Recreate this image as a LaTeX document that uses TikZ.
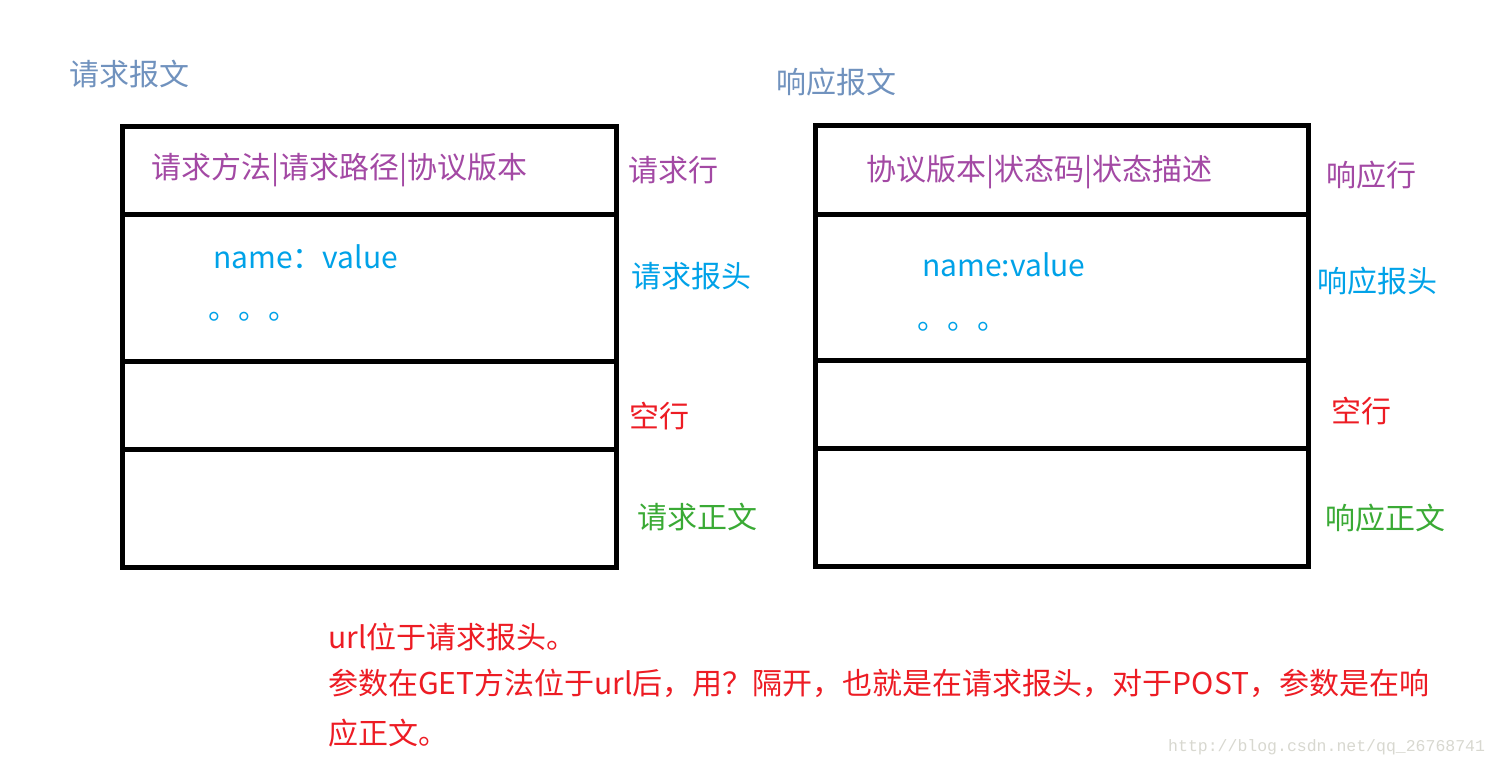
\documentclass[tikz,border=0pt]{standalone}
\usepackage{fontspec}
\setmainfont{Noto Sans CJK SC}
\setmonofont{Liberation Mono}
\definecolor{ttl}{HTML}{7092BE}
\definecolor{pur}{HTML}{A349A4}
\definecolor{cya}{HTML}{00A2E8}
\definecolor{rd}{HTML}{ED1C24}
\definecolor{grn}{HTML}{3AAA35}
\definecolor{wm}{HTML}{D8D8D0}
\begin{document}
\begin{tikzpicture}[x=1pt,y=-1pt,
  rowbox/.style={draw=black,line width=5pt,rectangle,inner sep=0pt},
  lbl/.style={anchor=west,inner sep=0pt,font=\fontsize{30}{36}\selectfont},
  small/.style={anchor=west,inner sep=0pt,font=\fontsize{30}{35}\selectfont}]
\useasboundingbox[fill=white] (0,0) rectangle (1501,767);
% titles
\node[lbl,text=ttl] (reqtitle) at (69,74) {请求报文};
\node[lbl,text=ttl] (restitle) at (776,82) {响应报文};
% left box rows
\node[rowbox,minimum width=494pt,minimum height=88pt] (lr1) at (369,171) {};
\node[rowbox,minimum width=494pt,minimum height=146pt] (lr2) at (369,288) {};
\node[rowbox,minimum width=494pt,minimum height=88pt] (lr3) at (369,405) {};
\node[rowbox,minimum width=494pt,minimum height=118pt] (lr4) at (369,508) {};
% right box rows
\node[rowbox,minimum width=493pt,minimum height=89pt] (rr1) at (1061.5,170.5) {};
\node[rowbox,minimum width=493pt,minimum height=145pt] (rr2) at (1061.5,287.5) {};
\node[rowbox,minimum width=493pt,minimum height=88pt] (rr3) at (1061.5,404) {};
\node[rowbox,minimum width=493pt,minimum height=118pt] (rr4) at (1061.5,507) {};
% left contents
\node[small,text=pur] (lt1) at (151,170) {请求方法|请求路径|协议版本};
\node[lbl,text=cya] (lt2) at (213,257) {name：value};
\node[lbl,text=cya] (lt3) at (208,317) {。。。};
% right contents
\node[small,text=pur] (rt1) at (866,172) {协议版本|状态码|状态描述};
\node[lbl,text=cya] (rt2) at (922,265) {name:value};
\node[lbl,text=cya] (rt3) at (917,327) {。。。};
% side labels left
\node[lbl,text=pur] (ll1) at (628,170) {请求行};
\node[lbl,text=cya] (ll2) at (631,276) {请求报头};
\node[lbl,text=rd] (ll3) at (629,416) {空行};
\node[lbl,text=grn] (ll4) at (637,517) {请求正文};
% side labels right
\node[lbl,text=pur] (rl1) at (1326,175) {响应行};
\node[lbl,text=cya] (rl2) at (1317,281) {响应报头};
\node[lbl,text=rd] (rl3) at (1331,411) {空行};
\node[lbl,text=grn] (rl4) at (1325,518) {响应正文};
% notes
\node[lbl,text=rd] (n1) at (328,637) {url位于请求报头。};
\node[lbl,text=rd] (n2) at (328,683) {参数在GET方法位于url后，用？隔开，也就是在请求报头，对于POST，参数是在响};
\node[lbl,text=rd] (n3) at (328,733) {应正文。};
% watermark
\node[anchor=west,inner sep=0pt,text=wm,font=\ttfamily\fontsize{16.5}{20}\selectfont] (wmk) at (1168,747) {http://blog.csdn.net/qq\_26768741};
\end{tikzpicture}
\end{document}
